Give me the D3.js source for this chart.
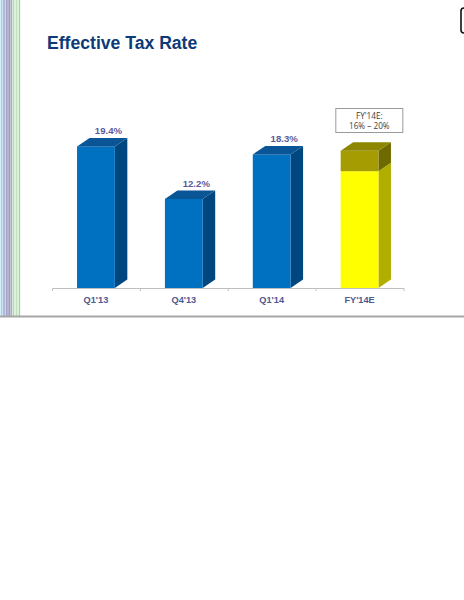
<!DOCTYPE html>
<html>
<head>
<meta charset="utf-8">
<script src="https://cdn.jsdelivr.net/npm/d3@7"></script>
<style>
  html, body { margin: 0; padding: 0; background: #fff; }
  svg { display: block; font-family: "Liberation Sans", Arial, sans-serif; }
</style>
</head>
<body>
<div id="chart"></div>
<script>
// Chart data
const categories = ["Q1'13", "Q4'13", "Q1'14", "FY'14E"];
const rates = [19.4, 12.2, 18.3, null];          // reported quarters
const rateLabels = ["19.4%", "12.2%", "18.3%", null];
const fyLow = 16;                                // yellow part of the estimate bar
const fyHigh = 18.8;                             // top of the olive part, as drawn
const fyNote = ["FY'14E:", "16% \u2013 20%"];

// Decorative stripes on the left edge (colour per 1px column)
const stripeColors = ["#d8eef8", "#9fd0ee", "#c8e6f5", "#8ec6ea", "#b8b8d8", "#d0d0e6",
    "#a7a7c9", "#b4b4cf", "#b4b4cf", "#9c9cbf", "#c9c9de", "#a8a8c8", "#d9ecd9",
    "#b4dcb4", "#e0f0e0", "#e0f0e0", "#c0e2c0", "#d9efd9", "#d9efd9", "#a8d5a8", "#eef8ee"];

const width = 464;
const height = 600;

const svg = d3.select('#chart')
    .append('svg')
    .attr('width', width)
    .attr('height', height);

// Left stripes
svg.append('g')
    .selectAll('rect')
    .data(stripeColors)
    .join('rect')
    .attr('x', (d, i) => i)
    .attr('y', 0)
    .attr('width', 1)
    .attr('height', 316)
    .attr('fill', d => d);

// Slide separator line
svg.append('line')
    .attr('x1', 0).attr('x2', width)
    .attr('y1', 316.5).attr('y2', 316.5)
    .attr('stroke', '#a6a6a6')
    .attr('stroke-width', 2);

// Corner of the next element peeking in at top right
svg.append('rect')
    .attr('x', 461).attr('y', 8)
    .attr('width', 20).attr('height', 25)
    .attr('rx', 3)
    .attr('fill', 'none')
    .attr('stroke', '#111')
    .attr('stroke-width', 1.6);

// Title
svg.append('text')
    .attr('x', 47)
    .attr('y', 49)
    .attr('font-size', 17.6)
    .attr('font-weight', 'bold')
    .attr('fill', '#0d3a78')
    .text('Effective Tax Rate');

// Scales
const x = d3.scaleBand()
    .domain(categories)
    .range([52, 403.5])
    .padding(0);

const y = d3.scaleLinear()
    .domain([0, 20])
    .range([288, 142]);

const barW = x.bandwidth() * 0.43;
const dx = 12.5;   // 3D depth offset
const dy = 8.5;

function drawBlock(g, cx, v0, v1, colors, withTop) {
    const xl = cx - barW / 2;
    const xr = cx + barW / 2;
    const yt = y(v1);
    const yb = y(v0);
    // side face
    g.append('path')
        .attr('d', `M${xr},${yt} L${xr + dx},${yt - dy} L${xr + dx},${yb - dy} L${xr},${yb} Z`)
        .attr('fill', colors.side);
    // front face
    g.append('rect')
        .attr('x', xl)
        .attr('y', yt)
        .attr('width', barW)
        .attr('height', yb - yt)
        .attr('fill', colors.front);
    if (withTop) {
        g.append('path')
            .attr('d', `M${xl},${yt} L${xl + dx},${yt - dy} L${xr + dx},${yt - dy} L${xr},${yt} Z`)
            .attr('fill', colors.top);
    }
}

const blue = { front: '#0070c0', side: '#00467f', top: '#0a5596' };
const yellow = { front: '#ffff00', side: '#b2ae00', top: '#c8c400' };
const olive = { front: '#a49c00', side: '#6f6a00', top: '#8c8600' };

// Axis: labels from d3.axisBottom, boundary ticks added
const axis = svg.append('g')
    .attr('transform', `translate(0,${y(0)})`)
    .call(d3.axisBottom(x).tickSize(0).tickSizeOuter(3).tickPadding(8));

axis.select('.domain').attr('stroke', '#bfbfbf');
axis.selectAll('.tick text')
    .attr('font-family', '"Liberation Sans", Arial, sans-serif')
    .attr('font-size', 9.2)
    .attr('font-weight', 'bold')
    .attr('fill', '#4e5a92');

axis.selectAll('line.boundary')
    .data(categories.slice(1))
    .join('line')
    .attr('class', 'boundary')
    .attr('x1', d => x(d) + 0.5)
    .attr('x2', d => x(d) + 0.5)
    .attr('y1', 0)
    .attr('y2', 3)
    .attr('stroke', '#bfbfbf');

// Bars
const bars = svg.append('g');
categories.forEach((cat, i) => {
    const cx = x(cat) + x.bandwidth() / 2;
    if (rates[i] !== null) {
        drawBlock(bars, cx, 0, rates[i], blue, true);
        bars.append('text')
            .attr('x', cx + dx)
            .attr('y', y(rates[i]) - dy - 3.5)
            .attr('text-anchor', 'middle')
            .attr('font-size', 9.6)
            .attr('font-weight', 'bold')
            .attr('fill', '#5a5a9a')
            .text(rateLabels[i]);
    } else {
        drawBlock(bars, cx, 0, fyLow, yellow, false);
        drawBlock(bars, cx, fyLow, fyHigh, olive, true);

        // Estimate note box
        const boxW = 67, boxH = 24;
        const bx = cx + dx / 2 + 3.5 - boxW / 2;
        const by = 108.5;
        const note = svg.append('g');
        note.append('rect')
            .attr('x', bx).attr('y', by)
            .attr('width', boxW).attr('height', boxH)
            .attr('fill', '#fff')
            .attr('stroke', '#9a9a9a')
            .attr('stroke-width', 1);
        note.selectAll('text')
            .data(fyNote)
            .join('text')
            .attr('x', bx + boxW / 2)
            .attr('y', (d, j) => by + 10.8 + j * 10)
            .attr('text-anchor', 'middle')
            .attr('font-family', '"Open Sans", "Noto Sans", sans-serif')
            .attr('font-size', 8.2)
            .attr('fill', '#404040')
            .text(d => d);
    }
});
</script>
</body>
</html>
